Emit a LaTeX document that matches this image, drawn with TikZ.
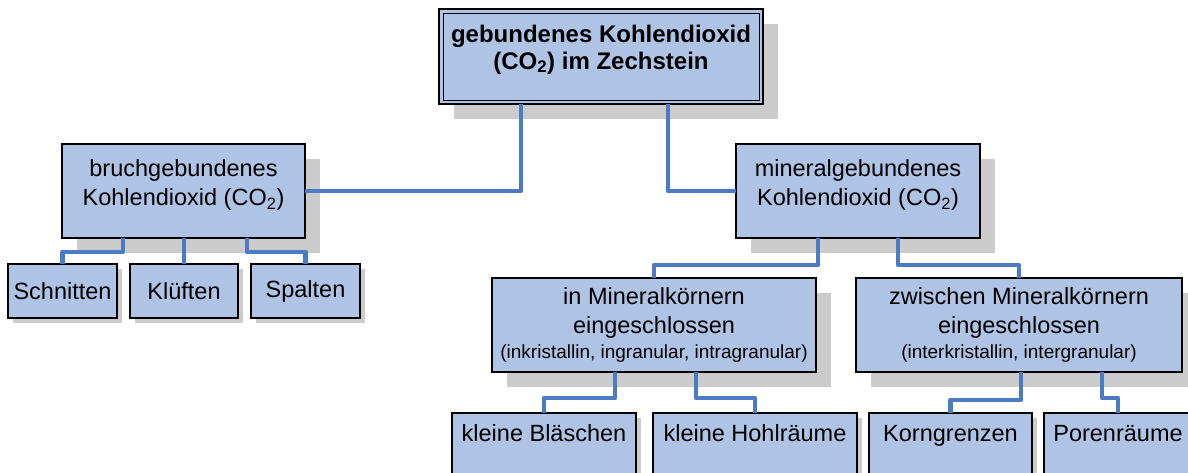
\documentclass[tikz,border=0pt]{standalone}
\usepackage{fontspec}
\setmainfont{Liberation Sans}
\definecolor{boxfill}{HTML}{AFC3E4}
\definecolor{connblue}{HTML}{4A7BC4}
\definecolor{shadowgray}{HTML}{CBCBCB}
\tikzset{
  box/.style={draw=black, line width=1.5pt, fill=boxfill, inner sep=0pt, outer sep=0pt,
    align=center, anchor=north west, font=\fontsize{23.5}{29}\selectfont},
  bigshadow/.style={preaction={fill=shadowgray, draw=none, transform canvas={xshift=15pt,yshift=-15pt}}},
  smallshadow/.style={preaction={fill=shadowgray, draw=none, transform canvas={xshift=5pt,yshift=-5pt}}},
  conn/.style={draw=connblue, line width=4.5pt, line join=round}
}
\newcommand{\sub}[1]{\textsubscript{#1}}
\begin{document}
\begin{tikzpicture}[x=1pt,y=-1pt]
\useasboundingbox (0,0) rectangle (1188,472);
\clip (0,0) rectangle (1188,472);
\fill[white] (0,0) rectangle (1188,472);
% top
\node[box, bigshadow, line width=2pt, minimum width=324pt, minimum height=95pt,
  font=\bfseries\fontsize{24}{27}\selectfont] (top) at (439,9)
  {gebundenes Kohlendioxid\\(CO\sub{2}) im Zechstein\\[-8pt]\mbox{}};
\draw[line width=1pt] ([shift={(4,4)}]top.north west) rectangle ([shift={(-4,-4)}]top.south east);
% level 2
\node[box, bigshadow, minimum width=243pt, minimum height=94pt] (bruch) at (62,144)
  {bruchgebundenes\\Kohlendioxid (CO\sub{2})\\[-12pt]\mbox{}};
\node[box, bigshadow, minimum width=244pt, minimum height=94pt] (mineral) at (736,144)
  {mineralgebundenes\\Kohlendioxid (CO\sub{2})\\[-12pt]\mbox{}};
% bruch children
\node[box, smallshadow, minimum width=109pt, minimum height=54pt] (schnitten) at (8,264) {Schnitten};
\node[box, smallshadow, minimum width=108pt, minimum height=54pt] (klueften) at (130,264) {Klüften};
\node[box, smallshadow, minimum width=109pt, minimum height=54pt] (spalten) at (251,264) {Spalten};
% mineral children
\node[box, bigshadow, minimum width=324pt, minimum height=94pt] (inmin) at (492,278)
  {in Mineralkörnern\\eingeschlossen\\[-4pt]{\fontsize{19}{22}\selectfont(inkristallin, ingranular, intragranular)}};
\node[box, bigshadow, minimum width=326pt, minimum height=94pt] (zwischen) at (856,278)
  {zwischen Mineralkörnern\\eingeschlossen\\[-4pt]{\fontsize{19}{22}\selectfont(interkristallin, intergranular)}};
% bottom
\node[box, smallshadow, minimum width=184pt, minimum height=70pt, text depth=30pt] (blaeschen) at (452,413) {kleine Bläschen};
\node[box, smallshadow, minimum width=204pt, minimum height=70pt, text depth=30pt] (hohl) at (653,413) {kleine Hohlräume};
\node[box, smallshadow, minimum width=163pt, minimum height=70pt, text depth=30pt] (korn) at (869,413) {Korngrenzen};
\node[box, smallshadow, minimum width=148pt, minimum height=70pt, text depth=30pt] (poren) at (1044,413) {Porenräume};
% connectors
\draw[conn] ([xshift=82pt]top.south west) |- (bruch.east);
\draw[conn] ([xshift=229pt]top.south west) |- (mineral.west);
\draw[conn] ([xshift=61pt]bruch.south west) -- ++(0,14) -| (schnitten.north);
\draw[conn] (bruch.south -| klueften.north) -- (klueften.north);
\draw[conn] ([xshift=185pt]bruch.south west) -- ++(0,14) -| (spalten.north);
\draw[conn] ([xshift=82pt]mineral.south west) -- ++(0,27) -| (inmin.north);
\draw[conn] ([xshift=162pt]mineral.south west) -- ++(0,27) -| (zwischen.north);
\draw[conn] ([xshift=123pt]inmin.south west) -- ++(0,26) -| (blaeschen.north);
\draw[conn] ([xshift=204pt]inmin.south west) -- ++(0,26) -| (hohl.north);
\draw[conn] ([xshift=165pt]zwischen.south west) -- ++(0,28) -| (korn.north);
\draw[conn] ([xshift=246pt]zwischen.south west) -- ++(0,26) -| (poren.north);
\end{tikzpicture}
\end{document}
